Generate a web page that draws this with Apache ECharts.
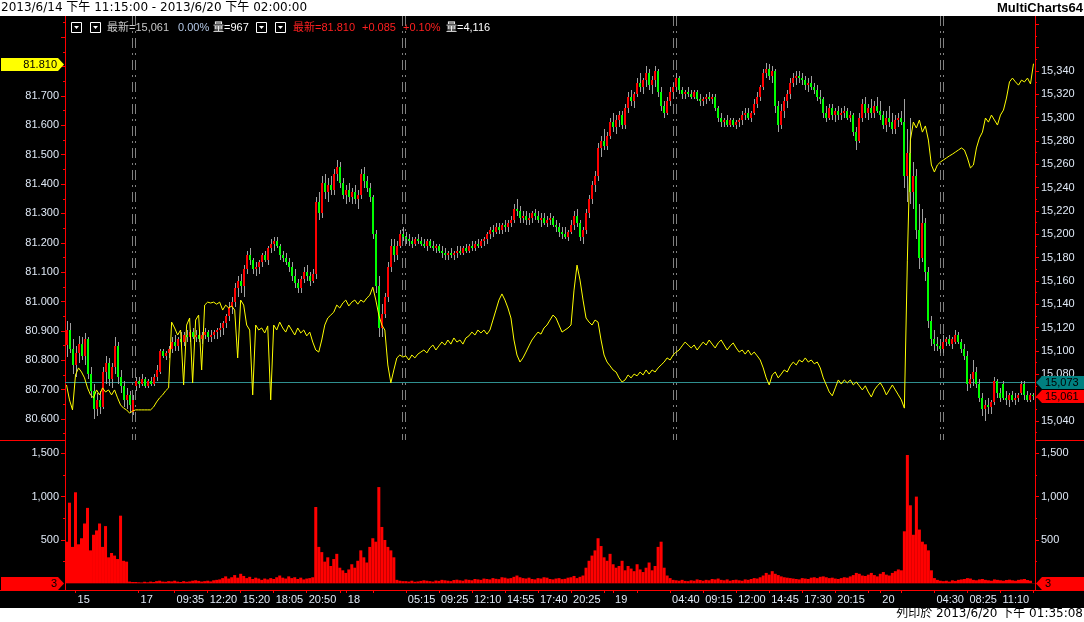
<!DOCTYPE html>
<html><head><meta charset="utf-8">
<script src="https://cdn.jsdelivr.net/npm/echarts@6/dist/echarts.min.js"></script>
<style>html,body{margin:0;padding:0;background:#000;}#c{width:1084px;height:622px;}</style>
</head><body><div id="c"></div>
<script>
// ---------------- texts ----------------
const titleText = '2013/6/14 下午 11:15:00 - 2013/6/20 下午 02:00:00';
const brandText = 'MultiCharts64';
const printText = '列印於 2013/6/20 下午 01:35:08';
const legendTexts = [
  {t:'最新=15,061', x:107, c:'#c8c8c8'}, {t:'0.00%', x:178, c:'#b4c8e6'}, {t:'量=967', x:213, c:'#ffffff'},
  {t:'最新=81.810', x:293, c:'#ff2020'}, {t:'+0.085', x:362, c:'#ff2020'}, {t:'+0.10%', x:403, c:'#ff2020'},
  {t:'量=4,116', x:446, c:'#ffffff'}
];

// ---------------- x axis ticks / labels (category index of 15-min bars) ----------------
const tickMarkIdx = [3,24,36,47,58,69,80,91,93,102,113,124,135,146,157,168,179,182,190,201,212,223,234,245,256,267,271,278,289,300,311,322];
const tickLabelIdx = [3,24,36,47,58,69,80,93,113,124,135,146,157,168,182,201,212,223,234,245,256,271,289,300,311];
const tickLabelText = ['15','17','09:35','12:20','15:20','18:05','20:50','18','05:15','09:25','12:10','14:55','17:40','20:25','19','04:40','09:15','12:00','14:45','17:30','20:15','20','04:30','08:25','11:10'];

// ---------------- y axis tick values ----------------
const leftLabels = [80.6,80.7,80.8,80.9,81.0,81.1,81.2,81.3,81.4,81.5,81.6,81.7];
const leftTicks = [80.6,80.7,80.8,80.9,81.0,81.1,81.2,81.3,81.4,81.5,81.6,81.7,81.8,81.9];
const leftMinor = [80.55,80.65,80.75,80.85,80.95,81.05,81.15,81.25,81.35,81.45,81.55,81.65,81.75,81.85,81.95];
const rightLabels = [15040,15060,15080,15100,15120,15140,15160,15180,15200,15220,15240,15260,15280,15300,15320,15340];
const rightTicks = [15040,15060,15080,15100,15120,15140,15160,15180,15200,15220,15240,15260,15280,15300,15320,15340,15360,15380];
const rightMinor = [15030,15050,15070,15090,15110,15130,15150,15170,15190,15210,15230,15250,15270,15290,15310,15330,15350,15370];
const volLabels = [500,1000,1500];
const volMinor = [250,750,1250];
const refLevel = 15073;

// ---------------- Dow mini futures 15-min bars [open, high, low, close] per session ----------------
const ymA = [
[15105,15126,15095,15118],[15118,15124,15098,15102],[15102,15110,15080,15088],[15088,15104,15078,15098],
[15098,15113,15090,15106],[15106,15112,15092,15096],[15096,15115,15088,15110],[15110,15112,15076,15080],
[15080,15086,15060,15066],[15066,15072,15042,15050],[15050,15064,15044,15058],[15058,15066,15046,15052],
[15052,15086,15050,15082],[15082,15096,15072,15090],[15090,15094,15070,15076],[15076,15090,15068,15086],
[15086,15112,15080,15104],[15104,15108,15072,15078],[15078,15084,15064,15070],[15070,15074,15052,15058],
[15058,15068,15050,15062],[15062,15066,15048,15054],[15048,15062,15045,15058]];
const ymB = [
[15070,15078,15066,15074],[15074,15078,15068,15072],[15072,15080,15070,15076],[15076,15078,15068,15070],
[15070,15076,15068,15074],[15074,15078,15070,15072],[15072,15080,15070,15078],[15078,15088,15074,15084],
[15082,15102,15080,15100],[15100,15102,15094,15096],[15096,15100,15092,15098],[15098,15104,15094,15102],
[15102,15112,15098,15108],[15108,15114,15100,15104],[15104,15112,15100,15110],[15110,15116,15104,15108],
[15108,15116,15104,15114],[15114,15118,15108,15112],[15112,15118,15108,15116],[15116,15120,15110,15112],
[15112,15118,15108,15114],[15114,15118,15108,15110],[15110,15116,15106,15114],[15114,15120,15110,15116],
[15116,15118,15108,15112],[15112,15118,15108,15114],[15114,15118,15110,15116],[15116,15120,15110,15118],
[15118,15124,15112,15120],[15120,15126,15114,15124],[15124,15132,15120,15130],[15130,15142,15126,15138],
[15138,15146,15132,15142],[15142,15158,15138,15154],[15154,15164,15146,15160],[15160,15166,15150,15156],
[15156,15174,15146,15170],[15170,15186,15166,15182],[15182,15188,15174,15178],[15178,15180,15166,15170],
[15170,15176,15164,15172],[15172,15178,15166,15176],[15176,15184,15172,15182],[15182,15186,15176,15178],
[15178,15190,15174,15188],[15188,15196,15184,15192],[15192,15198,15186,15194],[15194,15198,15188,15190],
[15190,15192,15178,15182],[15182,15186,15176,15180],[15180,15184,15174,15176],[15176,15180,15168,15172],
[15172,15176,15160,15164],[15164,15170,15154,15158],[15158,15162,15150,15154],[15154,15164,15150,15162],
[15162,15172,15158,15168],[15168,15174,15160,15164],[15164,15168,15156,15160],[15160,15170,15158,15166],
[15166,15232,15162,15228],[15228,15236,15212,15218],[15218,15250,15214,15244],[15244,15252,15230,15236],
[15236,15248,15228,15242],[15242,15250,15234,15238],[15238,15256,15234,15252],[15252,15264,15246,15258],
[15258,15262,15240,15244],[15244,15248,15230,15234],[15234,15242,15226,15238],[15238,15244,15228,15232],
[15232,15240,15226,15236],[15236,15242,15226,15230],[15230,15238,15222,15234],[15234,15256,15230,15252],
[15252,15258,15240,15246],[15246,15250,15236,15240],[15240,15244,15228,15232],[15232,15234,15196,15200],
[15200,15204,15150,15156],[15156,15164,15112,15120],[15120,15140,15112,15132],[15132,15150,15128,15146],
[15146,15176,15142,15172],[15172,15196,15168,15190],[15190,15196,15176,15182],[15182,15194,15178,15190],
[15190,15204,15188,15200],[15200,15206,15194,15198]];
const ymC = [
[15198,15202,15192,15196],[15196,15200,15190,15194],[15194,15198,15188,15192],[15192,15198,15190,15196],
[15196,15200,15192,15194],[15194,15198,15190,15192],[15192,15196,15188,15190],[15190,15196,15186,15194],
[15194,15196,15188,15190],[15190,15194,15186,15188],[15188,15192,15184,15190],[15190,15192,15184,15186],
[15186,15190,15180,15184],[15184,15188,15178,15182],[15182,15186,15178,15184],[15184,15188,15180,15182],
[15182,15186,15178,15184],[15184,15190,15180,15186],[15186,15190,15182,15184],[15184,15190,15182,15188],
[15188,15192,15184,15186],[15186,15192,15184,15190],[15190,15194,15186,15188],[15188,15194,15186,15192],
[15192,15196,15188,15190],[15190,15196,15188,15194],[15194,15198,15190,15196],[15196,15202,15192,15200],
[15200,15206,15196,15204],[15204,15208,15198,15202],[15202,15210,15200,15206],[15206,15210,15200,15204],
[15204,15210,15200,15208],[15208,15212,15202,15206],[15206,15212,15202,15210],[15210,15216,15206,15212],
[15212,15226,15210,15222],[15222,15230,15216,15220],[15220,15224,15210,15214],[15214,15220,15210,15216],
[15216,15220,15208,15212],[15212,15218,15208,15214],[15214,15220,15210,15218],[15218,15222,15212,15216],
[15216,15220,15210,15212],[15212,15218,15206,15214],[15214,15218,15208,15210],[15210,15216,15206,15212],
[15212,15218,15208,15214],[15214,15216,15206,15208],[15208,15212,15202,15206],[15206,15210,15198,15202],
[15202,15206,15196,15200],[15200,15206,15196,15198],[15198,15204,15194,15202],[15202,15212,15200,15208],
[15208,15220,15204,15216],[15216,15222,15206,15210],[15210,15212,15194,15198],[15198,15206,15192,15204],
[15204,15222,15200,15218],[15218,15234,15214,15230],[15230,15246,15226,15242],[15242,15254,15236,15250],
[15250,15278,15246,15274],[15274,15284,15266,15280],[15280,15290,15272,15276],[15276,15288,15272,15284],
[15284,15300,15282,15296],[15296,15304,15288,15292],[15292,15302,15286,15298],[15298,15306,15292,15302],
[15302,15306,15290,15294],[15294,15312,15290,15308],[15308,15322,15304,15318],[15318,15324,15310,15314],
[15314,15322,15308,15320],[15320,15334,15318,15330],[15330,15338,15322,15326],[15326,15334,15320,15332],
[15332,15344,15326,15338],[15338,15342,15324,15328],[15328,15336,15320,15332],[15332,15344,15326,15340],
[15340,15342,15318,15322],[15322,15326,15306,15310],[15310,15314,15300,15304],[15304,15318,15302,15314],
[15314,15326,15310,15322],[15322,15330,15316,15326]];
const ymD = [
[15326,15338,15322,15334],[15334,15336,15320,15324],[15324,15326,15316,15320],[15320,15324,15316,15322],
[15322,15326,15318,15320],[15320,15324,15316,15318],[15318,15324,15316,15322],[15322,15324,15314,15316],
[15316,15320,15310,15314],[15314,15318,15310,15316],[15316,15320,15312,15318],[15318,15322,15314,15316],
[15316,15320,15312,15318],[15318,15320,15306,15308],[15308,15310,15296,15300],[15300,15304,15292,15296],
[15296,15300,15292,15298],[15298,15302,15292,15294],[15294,15300,15292,15298],[15298,15300,15292,15294],
[15294,15298,15290,15296],[15296,15300,15292,15298],[15298,15306,15294,15302],[15302,15308,15298,15304],
[15304,15308,15298,15300],[15300,15306,15296,15304],[15304,15316,15302,15312],[15312,15322,15308,15318],
[15318,15328,15314,15326],[15326,15342,15324,15338],[15338,15347,15334,15342],[15342,15346,15332,15336],
[15336,15344,15330,15340],[15340,15342,15304,15310],[15310,15314,15288,15294],[15294,15312,15290,15306],
[15306,15318,15300,15314],[15314,15324,15308,15320],[15320,15334,15316,15330],[15330,15338,15326,15334],
[15334,15340,15328,15336],[15336,15340,15330,15334],[15334,15338,15328,15332],[15332,15336,15324,15328],
[15328,15334,15322,15330],[15330,15336,15324,15326],[15326,15330,15320,15324],[15324,15328,15314,15318],
[15318,15324,15312,15316],[15316,15318,15300,15304],[15304,15310,15296,15300],[15300,15312,15298,15308],
[15308,15312,15298,15302],[15302,15308,15296,15306],[15306,15310,15298,15302],[15302,15308,15298,15304],
[15304,15310,15300,15306],[15306,15308,15298,15300],[15300,15306,15296,15302],[15302,15304,15284,15288],
[15288,15292,15272,15280],[15280,15304,15278,15300],[15300,15316,15296,15312],[15312,15318,15300,15304],
[15304,15312,15298,15308],[15308,15316,15300,15304],[15304,15314,15300,15310],[15310,15318,15304,15306],
[15306,15314,15298,15302],[15302,15306,15290,15294],[15294,15306,15288,15300],[15300,15310,15292,15296],
[15296,15304,15286,15290],[15290,15302,15286,15298],[15298,15304,15292,15300],[15300,15306,15294,15296],
[15296,15316,15240,15250],[15250,15290,15228,15270],[15270,15300,15226,15236],[15236,15262,15222,15250],
[15250,15256,15196,15204],[15204,15226,15170,15180],[15180,15222,15176,15210],[15210,15214,15160,15168],
[15168,15172,15120,15126],[15126,15130,15104,15110],[15110,15118,15100,15106],[15106,15112,15100,15104],
[15104,15110,15098,15102]];
const ymE = [
[15102,15114,15098,15108],[15108,15112,15104,15110],[15110,15114,15104,15106],[15106,15112,15102,15110],
[15108,15118,15106,15114],[15114,15116,15106,15108],[15108,15110,15098,15102],[15102,15106,15092,15096],
[15096,15100,15066,15072],[15072,15080,15068,15076],[15076,15092,15070,15082],[15082,15086,15068,15072],
[15072,15076,15056,15060],[15060,15064,15044,15050],[15050,15058,15040,15054],[15054,15060,15046,15052],
[15052,15058,15046,15056],[15056,15078,15054,15074],[15074,15076,15060,15064],[15064,15068,15056,15060],
[15072,15074,15058,15060],[15060,15066,15054,15058],[15058,15064,15052,15062],[15062,15066,15056,15058],
[15058,15064,15054,15060],[15060,15064,15056,15062],[15064,15074,15062,15072],[15072,15074,15058,15062],
[15062,15066,15056,15058],[15058,15064,15056,15062],[15062,15064,15058,15061]];

// ---------------- Dollar index (left axis) per session ----------------
const dxA = [80.716,80.665,80.631,80.750,80.774,80.760,80.740,80.706,80.682,80.672,80.699,80.682,80.706,80.692,80.699,80.682,80.699,80.672,80.648,80.637,80.631,80.620,80.627];
const dxB = [80.631,80.631,80.631,80.631,80.631,80.631,80.641,80.658,80.672,80.682,
80.696,80.706,80.930,80.910,80.886,80.903,80.716,80.920,80.944,80.723,
80.937,80.954,80.767,80.988,80.998,80.995,80.998,80.991,80.998,80.971,
80.988,80.978,80.985,80.971,80.808,81.005,80.988,80.920,80.903,80.682,
80.920,80.903,80.910,80.893,80.917,80.665,80.920,80.903,80.930,80.910,
80.896,80.920,80.903,80.886,80.910,80.893,80.903,80.883,80.896,80.862,
80.835,80.828,80.869,80.920,80.944,80.954,80.964,80.988,80.978,80.995,
81.005,80.985,80.998,81.005,80.991,81.005,80.998,81.012,81.022,81.049,
81.005,80.954,80.920,80.903,80.784,80.723,80.767,80.808,80.818,80.811];
const dxC = [80.815,80.801,80.818,80.808,80.821,80.828,80.835,80.825,80.842,80.852,
80.835,80.849,80.862,80.852,80.869,80.855,80.876,80.862,80.869,80.855,
80.876,80.883,80.896,80.886,80.903,80.893,80.903,80.889,80.903,80.937,
80.971,81.005,81.026,81.005,80.978,80.944,80.869,80.818,80.794,80.808,
80.828,80.849,80.869,80.883,80.896,80.889,80.910,80.920,80.937,80.954,
80.944,80.920,80.896,80.903,80.910,80.920,81.039,81.124,81.073,81.005,
80.944,80.930,80.920,80.937,80.930,80.869,80.818,80.794,80.781,80.767,
80.760,80.740,80.726,80.733,80.750,80.740,80.753,80.747,80.760,80.750,
80.767,80.753,80.767,80.760,80.774,80.784,80.794,80.808,80.801,80.818];
const dxD = [80.828,80.835,80.849,80.862,80.852,80.842,80.852,80.835,80.849,80.862,
80.852,80.869,80.855,80.842,80.859,80.869,80.852,80.835,80.849,80.859,
80.842,80.828,80.835,80.821,80.835,80.818,80.828,80.815,80.801,80.774,
80.740,80.716,80.750,80.760,80.740,80.753,80.767,80.760,80.781,80.794,
80.784,80.801,80.794,80.808,80.794,80.801,80.788,80.794,80.774,80.740,
80.716,80.692,80.679,80.706,80.733,80.719,80.733,80.723,80.733,80.716,
80.726,80.713,80.699,80.713,80.692,80.675,80.699,80.713,80.723,80.706,
80.682,80.699,80.716,80.699,80.682,80.665,80.637,81.141,81.550,81.611,
81.591,81.618,81.577,81.598,81.550,81.465,81.441,81.465,81.475];
const dxE = [81.482,81.489,81.496,81.502,81.509,81.516,81.523,81.516,81.489,81.455,
81.465,81.523,81.557,81.577,81.625,81.611,81.635,81.618,81.601,81.635,
81.652,81.693,81.748,81.761,81.748,81.737,81.754,81.748,81.761,81.741,81.810];

// ---------------- Volume per session ----------------
const volA = [480,930,420,1050,450,520,690,870,380,560,610,690,420,660,300,350,320,280,780,260,250,20,15];
const volB = [15,12,10,18,12,20,15,25,30,20,18,25,22,30,20,15,25,18,22,30,35,28,20,25,30,22,35,40,
45,60,80,55,70,95,65,110,85,60,75,50,65,55,
40,55,45,60,50,70,90,65,55,80,60,70,50,65,45,55,60,70,
880,420,360,250,300,200,280,340,180,150,120,160,220,180,260,380,300,240,420,520,
480,1110,650,500,420,380,300,40,30,25];
const volC = [25,20,30,18,22,28,35,30,25,20,32,28,40,35,30,25,38,42,35,30,45,40,35,50,45,
40,55,50,45,60,52,48,70,65,55,60,75,90,70,60,55,65,50,45,60,55,70,65,50,45,55,60,48,52,65,70,85,60,75,90,
180,260,320,380,520,430,300,260,340,220,180,200,260,150,200,170,140,220,160,130,
180,240,150,200,420,480,180,90,60,40];
const volD = [35,30,40,28,25,35,30,45,38,30,40,35,50,45,55,40,35,45,30,38,42,35,30,45,40,50,60,55,
70,90,120,100,140,110,95,80,70,65,60,55,50,45,60,55,50,65,70,60,75,80,70,60,65,55,50,60,70,65,
80,95,120,110,90,85,100,120,95,80,110,130,100,90,120,140,160,150,
600,1480,900,560,1000,620,480,450,380,150,60,40,30];
const volE = [25,30,20,35,28,40,45,50,60,55,40,35,45,50,40,35,30,45,40,35,30,38,42,35,30,40,45,50,38,30,3];

// ---------------- assemble ----------------
const ymSessions = [ymA, ymB, ymC, ymD, ymE];
const ymBars = [].concat(...ymSessions);
const dxLine = [].concat(dxA, dxB, dxC, dxD, dxE);
const volume = [].concat(volA, volB, volC, volD, volE);
const N = ymBars.length;
if (dxLine.length !== N || volume.length !== N) console.error('length mismatch', N, dxLine.length, volume.length);
const categories = ymBars.map((_, i) => String(i));
const sessionStarts = [];
{ let acc = 0; for (let s = 0; s < ymSessions.length - 1; s++) { acc += ymSessions[s].length; sessionStarts.push(acc); } }
const tickSet = new Set(tickMarkIdx);
const labelMap = new Map(tickLabelIdx.map((k, j) => [k, tickLabelText[j]]));

const AXIS_RED = '#ff0000';
const LABEL_COL = '#dfe8f5';
const LF = 'Liberation Sans, Arial, sans-serif';
const TOP = 16, SPLIT = 440, BOT = 590;

function renderCandle(params, api) {
  const i = api.value(0);
  const o = api.value(1), h = api.value(2), l = api.value(3), c = api.value(4);
  const pO = api.coord([i, o]), pH = api.coord([i, h]), pL = api.coord([i, l]), pC = api.coord([i, c]);
  const x = Math.round(pO[0]);
  const yH = Math.round(pH[1]), yL = Math.round(pL[1]);
  const top = Math.round(Math.min(pO[1], pC[1])), bot = Math.round(Math.max(pO[1], pC[1]));
  const col = c > o ? '#ff0000' : (c < o ? '#00ff00' : '#a0a0a0');
  return {type: 'group', children: [
    {type: 'rect', shape: {x: x, y: yH, width: 1, height: Math.max(1, yL - yH)}, style: {fill: '#a0a0a0'}},
    {type: 'rect', shape: {x: x - 1, y: top, width: 2, height: Math.max(1, bot - top)}, style: {fill: col}}
  ]};
}

function yAxisDef(grid, pos, min, max, ticks, labels, fmt, tickLen, showLine) {
  return {
    type: 'value', gridIndex: grid, position: pos, min: min, max: max, scale: true,
    axisLine: {show: showLine, lineStyle: {color: AXIS_RED, width: 1}},
    axisTick: {show: true, length: tickLen, inside: false, lineStyle: {color: AXIS_RED}, customValues: ticks},
    axisLabel: labels ? {show: true, customValues: labels, formatter: fmt, color: LABEL_COL, fontFamily: LF, fontSize: 11, margin: 6} : {show: false},
    splitLine: {show: false}
  };
}
const fmtDx = v => Number(v).toFixed(3);
const fmtInt = v => Math.round(v).toLocaleString('en-US');

const LMIN = 80.5285, LMAX = 81.9724, RMIN = 15023.71, RMAX = 15387.14, VMIN = -77, VMAX = 1653;

const option = {
  backgroundColor: '#000',
  animation: false,
  grid: [
    {left: 65, right: 49, top: TOP, height: SPLIT - TOP},
    {left: 65, right: 49, top: SPLIT, height: BOT - SPLIT}
  ],
  xAxis: [
    {type: 'category', gridIndex: 0, data: categories, boundaryGap: true, show: false},
    {type: 'category', gridIndex: 1, data: categories, boundaryGap: true,
     axisLine: {show: true, onZero: false, lineStyle: {color: AXIS_RED}},
     axisTick: {show: true, alignWithLabel: true, interval: (i) => tickSet.has(i), length: 3, lineStyle: {color: AXIS_RED}},
     axisLabel: {show: true, interval: (i) => labelMap.has(i), formatter: (v, i) => labelMap.get(i) || '',
                 align: 'left', padding: [0, 0, 0, 2], color: LABEL_COL, fontFamily: LF, fontSize: 11, margin: 4},
     splitLine: {show: false}}
  ],
  yAxis: [
    yAxisDef(0, 'left', LMIN, LMAX, leftTicks, leftLabels, fmtDx, 4, true),
    yAxisDef(0, 'right', RMIN, RMAX, rightTicks, rightLabels, fmtInt, 4, true),
    yAxisDef(0, 'left', LMIN, LMAX, leftMinor, null, null, 2, false),
    yAxisDef(0, 'right', RMIN, RMAX, rightMinor, null, null, 2, false),
    yAxisDef(1, 'left', VMIN, VMAX, volLabels, volLabels, fmtInt, 4, true),
    yAxisDef(1, 'right', VMIN, VMAX, volLabels, volLabels, fmtInt, 4, true),
    yAxisDef(1, 'left', VMIN, VMAX, volMinor, null, null, 2, false),
    yAxisDef(1, 'right', VMIN, VMAX, volMinor, null, null, 2, false)
  ],
  series: [
    {type: 'custom', name: 'YM', xAxisIndex: 0, yAxisIndex: 1, renderItem: renderCandle, clip: true,
     encode: {x: 0, y: [1, 2, 3, 4]}, data: ymBars.map((r, i) => [i, r[0], r[1], r[2], r[3]]), z: 3},
    {type: 'line', name: 'DX', xAxisIndex: 0, yAxisIndex: 0, data: dxLine, showSymbol: false, symbol: 'none',
     lineStyle: {color: '#ffff00', width: 1}, itemStyle: {color: '#ffff00'}, z: 4},
    {type: 'bar', name: 'Vol', xAxisIndex: 1, yAxisIndex: 4, data: volume, barWidth: '100%', barCategoryGap: '0%',
     itemStyle: {color: '#ff0000'}, z: 3}
  ]
};

const chart = echarts.init(document.getElementById('c'), null, {renderer: 'canvas'});
chart.setOption(option);

// ---------------- annotations computed from the chart scales ----------------
function txt(x, y, t, color, size, family, align, weight) {
  return {type: 'text', x: x, y: y, z: 110,
    style: {text: t, fill: color, fontSize: size, fontFamily: family, fontWeight: weight || 'normal', align: align || 'left', verticalAlign: 'middle'}};
}
function lineEl(x1, y1, x2, y2, color, dash, z) {
  return {type: 'line', z: z == null ? 100 : z, shape: {x1: x1, y1: y1, x2: x2, y2: y2},
    style: {stroke: color, lineWidth: 1, lineDash: dash || null}, silent: true};
}
function leftTag(yc, color, t) {
  yc = Math.round(yc) + 0.5;
  return [
    {type: 'polygon', z: 105, shape: {points: [[1, yc - 6.5], [58, yc - 6.5], [64, yc], [58, yc + 6.5], [1, yc + 6.5]]}, style: {fill: color}},
    txt(57, yc, t, '#000', 11, LF, 'right')
  ];
}
function rightTag(yc, color, t) {
  yc = Math.round(yc) + 0.5;
  return [
    {type: 'polygon', z: 105, shape: {points: [[1036, yc], [1042, yc - 6.5], [1084, yc - 6.5], [1084, yc + 6.5], [1042, yc + 6.5]]}, style: {fill: color}},
    txt(1045, yc, t, '#000', 11, LF, 'left')
  ];
}

const g = [];
g.push({type: 'rect', z: 100, shape: {x: 0, y: 0, width: 1084, height: TOP}, style: {fill: '#ffffff'}});
g.push(txt(1, 8, titleText, '#000', 12, 'DejaVu Sans, Noto Sans CJK TC, sans-serif', 'left'));
g.push(txt(1083, 8, brandText, '#000', 13, LF, 'right', 'bold'));
g.push({type: 'rect', z: 100, shape: {x: 0, y: 608, width: 1084, height: 14}, style: {fill: '#ffffff'}});
g.push(txt(1083, 614, printText, '#000', 12, 'DejaVu Sans, Noto Sans CJK TC, sans-serif', 'right'));

// legend header
[71, 90, 256, 275].forEach(bx => {
  g.push({type: 'rect', z: 105, shape: {x: bx + 0.5, y: 22.5, width: 10, height: 10}, style: {fill: 'none', stroke: '#ffffff', lineWidth: 1}});
  g.push({type: 'polygon', z: 105, shape: {points: [[bx + 3, 26], [bx + 8, 26], [bx + 5.5, 29]]}, style: {fill: '#ffffff'}});
});
legendTexts.forEach(o => g.push(txt(o.x, 28, o.t, o.c, 11, LF + ', Noto Sans CJK TC', 'left')));

// pane separators
g.push(lineEl(0, SPLIT + 0.5, 65, SPLIT + 0.5, AXIS_RED));
g.push(lineEl(1035, SPLIT + 0.5, 1084, SPLIT + 0.5, AXIS_RED));
g.push(lineEl(0, BOT + 0.5, 1084, BOT + 0.5, AXIS_RED));

// day separators (double dashed lines at session starts)
sessionStarts.forEach(k => {
  const a = chart.convertToPixel({xAxisIndex: 0}, k - 1), b = chart.convertToPixel({xAxisIndex: 0}, k);
  const mid = (a + b) / 2;
  const x1 = Math.floor(mid - 1.5) + 0.5, x2 = x1 + 3;
  g.push(lineEl(x1, TOP, x1, SPLIT, '#808080', [10, 5, 2, 5], 1));
  g.push(lineEl(x2, TOP, x2, SPLIT, '#808080', [10, 5, 2, 5], 1));
});

// reference level line
const yRef = Math.round(chart.convertToPixel({yAxisIndex: 1}, refLevel)) + 0.5;
g.push(lineEl(65, yRef, 1035, yRef, '#2f8f8f', null, 2));

// price tags
const lastDx = dxLine[N - 1], lastYm = ymBars[N - 1][3], lastVol = volume[N - 1];
leftTag(chart.convertToPixel({yAxisIndex: 0}, lastDx), '#ffff00', lastDx.toFixed(3)).forEach(e => g.push(e));
rightTag(chart.convertToPixel({yAxisIndex: 1}, refLevel), '#008080', fmtInt(refLevel)).forEach(e => g.push(e));
rightTag(chart.convertToPixel({yAxisIndex: 1}, lastYm), '#ff0000', fmtInt(lastYm)).forEach(e => g.push(e));
const yVol = chart.convertToPixel({yAxisIndex: 4}, lastVol);
leftTag(yVol, '#ff0000', String(lastVol)).forEach(e => g.push(e));
rightTag(yVol, '#ff0000', String(lastVol)).forEach(e => g.push(e));

chart.setOption({graphic: g});
</script>
</body></html>
